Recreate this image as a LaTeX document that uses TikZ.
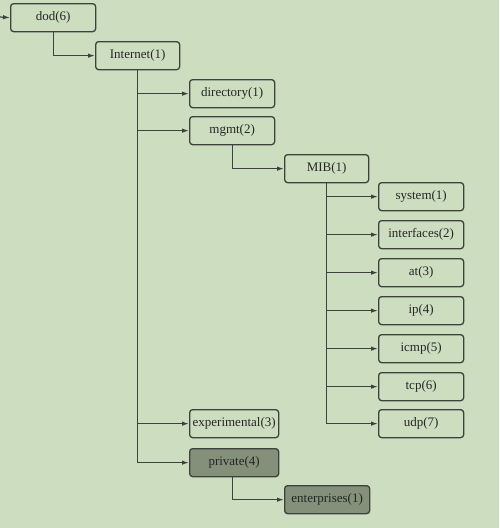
\documentclass[tikz,border=0pt]{standalone}
\usepackage{fontspec}
\setmainfont{Liberation Serif}
\usetikzlibrary{arrows.meta}
\definecolor{bg}{RGB}{205,222,192}
\definecolor{ln}{RGB}{62,66,60}
\definecolor{dark}{RGB}{132,144,122}
\tikzset{
  box/.style={draw=ln, line width=1.3pt, rounded corners=3pt, minimum width=85pt, minimum height=28pt, inner sep=1pt, font=\fontsize{13}{15}\selectfont, text=black!85, anchor=north west},
  darkbox/.style={box, fill=dark},
  conn/.style={draw=ln, line width=1.2pt, -{Latex[length=7pt,width=4.5pt]}},
}
\begin{document}
\begin{tikzpicture}[x=1pt,y=-1pt]
\fill[bg] (0,0) rectangle (499,528);
\useasboundingbox (0,0) rectangle (499,528);
\node[box] (dod) at (10,3) {dod(6)};
\node[box, minimum width=84pt] (internet) at (95,41) {Internet(1)};
\node[box] (directory) at (189,79) {directory(1)};
\node[box] (mgmt) at (189,116) {mgmt(2)};
\node[box, minimum width=84pt] (mib) at (284,154) {MIB(1)};
\node[box] (system) at (378,182) {system(1)};
\node[box] (interfaces) at (378,220) {interfaces(2)};
\node[box] (at) at (378,258) {at(3)};
\node[box] (ip) at (378,296) {ip(4)};
\node[box] (icmp) at (378,334) {icmp(5)};
\node[box] (tcp) at (378,372) {tcp(6)};
\node[box] (udp) at (378,409) {udp(7)};
\node[box, minimum width=89pt] (experimental) at (189,409) {experimental(3)};
\node[darkbox, minimum width=89pt] (private) at (189,448) {private(4)};
\node[darkbox] (enterprises) at (284,485) {enterprises(1)};
\coordinate (start) at (0,17);
\draw[conn] (start) -- (dod.west);
\draw[conn] (dod.south) |- (internet.west);
\draw[conn] (internet.south) |- (directory.west);
\draw[conn] (internet.south) |- (mgmt.west);
\draw[conn] (internet.south) |- (experimental.west);
\draw[conn] (internet.south) |- (private.west);
\draw[conn] (mgmt.south) |- (mib.west);
\draw[conn] ([xshift=-2pt]private.south) |- (enterprises.west);
\foreach \n in {system,interfaces,at,ip,icmp,tcp,udp}
  \draw[conn] (mib.south) |- (\n.west);
\end{tikzpicture}
\end{document}
